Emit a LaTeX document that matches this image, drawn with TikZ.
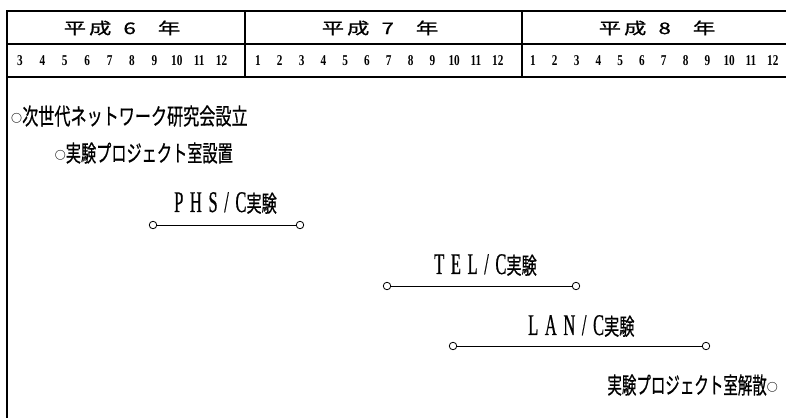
\documentclass[tikz,border=0pt]{standalone}
\usepackage{fontspec}
\newfontfamily\jpA[FakeStretch=0.70,FakeBold=0.6]{Noto Sans CJK JP}
\newfontfamily\jpB[FakeStretch=0.66,FakeBold=0.6]{Noto Sans CJK JP}
\newfontfamily\jpC[FakeStretch=0.63,FakeBold=0.6]{Noto Sans CJK JP}
\newfontfamily\jpplain{Noto Sans CJK JP}
\newfontfamily\jpwide[FakeStretch=1.4,FakeBold=0.8]{Noto Sans CJK JP}
\newfontfamily\lat[FakeStretch=0.55,LetterSpace=22,FakeBold=0.5]{Liberation Serif}
\newfontfamily\num[FakeStretch=0.75]{Liberation Serif}
\newcommand{\ring}{\raisebox{2pt}{\jpplain\bfseries\fontsize{11}{11}\selectfont ○}}
\newcommand{\latin}[1]{{\lat\fontsize{30}{30}\selectfont #1}}
\tikzset{
  frame/.style={line width=1.1pt},
  yr/.style={font=\jpwide\fontsize{16}{16}\selectfont, inner sep=0pt},
  mon/.style={font=\num\bfseries\fontsize{15}{15}\selectfont, inner sep=0pt},
  evA/.style={font=\jpA\fontsize{23}{23}\selectfont, inner sep=0pt},
  evB/.style={font=\jpB\fontsize{23}{23}\selectfont, inner sep=0pt},
  evC/.style={font=\jpC\fontsize{23}{23}\selectfont, inner sep=0pt},
  dot/.style={circle, draw, line width=0.8pt, minimum size=7.5pt, inner sep=0pt, fill=white},
  bar/.style={line width=0.9pt},
}
\begin{document}
\begin{tikzpicture}[x=1pt,y=-1pt]
\useasboundingbox (0,0) rectangle (786,418);
% frame
\draw[frame] (786,11) -- (7,11) -- (7,418);
\draw[frame] (7,44) -- (786,44);
\draw[frame] (7,77) -- (786,77);
\draw[frame] (245,11) -- (245,77);
\draw[frame] (522,11) -- (522,77);
% years
\node[yr] (y6) at (122,28) {平\kern3pt成\kern12pt 6\kern22pt 年};
\node[yr] (y7) at (380,28) {平\kern3pt成\kern12pt 7\kern22pt 年};
\node[yr] (y8) at (657,28) {平\kern3pt成\kern12pt 8\kern22pt 年};
% months
\foreach \m [count=\i from 0] in {3,...,12}
  \node[mon] (ma\m) at ({20+22.4*\i},61) {\m};
\foreach \m [count=\i from 0] in {1,...,12}
  \node[mon] (mb\m) at ({258+21.8*\i},61) {\m};
\foreach \m [count=\i from 0] in {1,...,12}
  \node[mon] (mc\m) at ({533+21.8*\i},61) {\m};
% events
\node[evA, anchor=west] (e1) at (11,116) {\ring 次世代ネットワーク研究会設立};
\node[evB, anchor=east] (e2) at (233,153) {\ring 実験プロジェクト室設置};
\node[evB, anchor=west] (phs) at (174,203) {\latin{PHS/C}実験};
\node[dot] (p1) at (153,225) {};
\node[dot] (p2) at (300,225) {};
\draw[bar] (p1) -- (p2);
\node[evB, anchor=west] (tel) at (434,265) {\latin{TEL/C}実験};
\node[dot] (t1) at (387,286) {};
\node[dot] (t2) at (576,286) {};
\draw[bar] (t1) -- (t2);
\node[evB, anchor=west] (lan) at (528,326) {\latin{LAN/C}実験};
\node[dot] (l1) at (453,346) {};
\node[dot] (l2) at (706,346) {};
\draw[bar] (l1) -- (l2);
\node[evC, anchor=east] (end) at (778,385) {実験プロジェクト室解散\ring};
\end{tikzpicture}
\end{document}
